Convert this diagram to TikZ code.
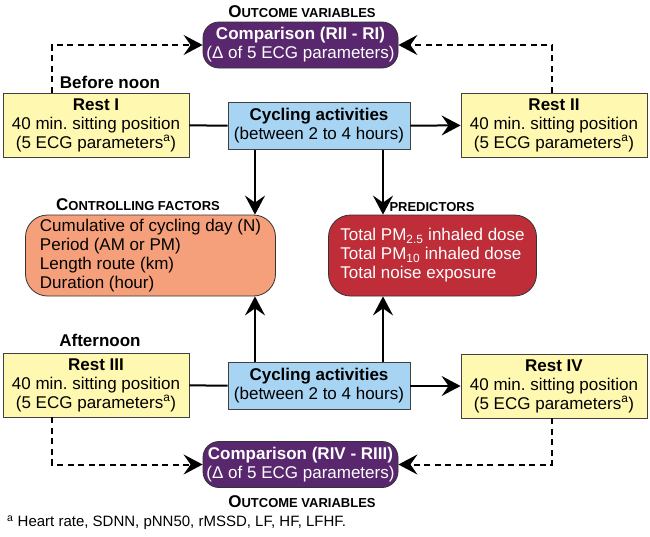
\documentclass[tikz,border=0pt]{standalone}
\usepackage{fontspec}
\setmainfont{Liberation Sans}
\usetikzlibrary{arrows.meta,positioning}
\definecolor{restyellow}{RGB}{255,248,176}
\definecolor{cycleblue}{RGB}{166,212,242}
\definecolor{outpurple}{RGB}{88,39,110}
\definecolor{ctrlorange}{RGB}{245,160,122}
\definecolor{predred}{RGB}{190,45,56}
\newcommand{\capsmall}[2]{{\bfseries #1{\fontsize{13}{13}\selectfont #2}}}
\frenchspacing

\begin{document}
\begin{tikzpicture}[x=1pt,y=-1pt,
  every node/.style={font=\fontsize{17}{19}\selectfont},
  rest/.style={rectangle,draw=black!75,line width=0.8pt,fill=restyellow,
               minimum width=186pt,minimum height=64pt,align=center,inner sep=2pt},
  cyc/.style={rectangle,draw=black!75,line width=0.8pt,fill=cycleblue,
              minimum width=182pt,minimum height=47pt,align=center,inner sep=2pt},
  outc/.style={rectangle,rounded corners=16pt,draw=black!80,line width=0.8pt,fill=outpurple,
               text=white,minimum width=195pt,minimum height=46pt,align=center,inner sep=2pt},
  fact/.style={rectangle,rounded corners=22pt,draw=black!80,line width=0.8pt,
               minimum height=81pt,align=left,inner sep=2pt},
  lab/.style={inner sep=0pt},
  ar/.style={-{Stealth[length=19pt,width=20pt,inset=7pt]},line width=2pt},
  ln/.style={line width=2pt},
  dsh/.style={-{Stealth[length=19pt,width=20pt,inset=7pt]},line width=2pt,dash pattern=on 6pt off 4.5pt}
]
\useasboundingbox (0,0) rectangle (650,536);

% before noon
\node[rest] (rest1) at (96,125)  {\textbf{Rest I}\\40 min. sitting position\\(5 ECG parameters\textsuperscript{a})};
\node[cyc]  (cyc1)  at (319,126) {\textbf{Cycling activities}\\(between 2 to 4 hours)};
\node[rest] (rest2) at (554,125) {\textbf{Rest II}\\40 min. sitting position\\(5 ECG parameters\textsuperscript{a})};
\node[outc] (cmp1)  at (300.5,45) {\textbf{Comparison (RII - RI)}\\(Δ of 5 ECG parameters)};
\node[lab] (out1) at (302,12) {\capsmall{O}{UTCOME VARIABLES}};
\node[lab,font=\fontsize{17}{19}\selectfont\bfseries] (morning) at (110,82) {Before noon};

% factors
\node[fact,fill=ctrlorange,minimum width=250pt] (ctrl) at (150.5,255.5)
  {Cumulative of cycling day (N)\\Period (AM or PM)\\Length route (km)\\Duration (hour)};
\node[fact,fill=predred,text=white,minimum width=208pt] (pred) at (432.5,255.5)
  {Total PM\textsubscript{2.5} inhaled dose\\Total PM\textsubscript{10} inhaled dose\\Total noise exposure};
\node[lab] (ctrllab) at (138,205) {\capsmall{C}{ONTROLLING FACTORS}};
\node[lab] (predlab) at (432,207) {\capsmall{}{PREDICTORS}};

% afternoon
\node[rest] (rest3) at (96,385)  {\textbf{Rest III}\\40 min. sitting position\\(5 ECG parameters\textsuperscript{a})};
\node[cyc]  (cyc2)  at (319,386) {\textbf{Cycling activities}\\(between 2 to 4 hours)};
\node[rest] (rest4) at (554,386) {\textbf{Rest IV}\\40 min. sitting position\\(5 ECG parameters\textsuperscript{a})};
\node[outc] (cmp2)  at (300.5,464.5) {\textbf{Comparison (RIV - RIII)}\\(Δ of 5 ECG parameters)};
\node[lab] (out2) at (302,502) {\capsmall{O}{UTCOME VARIABLES}};
\node[lab,font=\fontsize{17}{19}\selectfont\bfseries] (evening) at (100,340) {Afternoon};

\node[lab,anchor=west,font=\fontsize{15}{17}\selectfont] (note) at (7,523)
  {\textsuperscript{a}\ Heart rate, SDNN, pNN50, rMSSD, LF, HF, LFHF.};

% connectors
\draw[ln] (rest1) -- (cyc1);
\draw[ar] (cyc1) -- (rest2);
\draw[ln] (rest3) -- (cyc2);
\draw[ar] (cyc2) -- (rest4);

\draw[ar] ([xshift=-64pt]cyc1.south) -- ([xshift=-64pt]cyc1.south |- ctrl.north);
\draw[ar] ([xshift=64pt]cyc1.south) -- ([xshift=64pt]cyc1.south |- pred.north);
\draw[ar] ([xshift=-64pt]cyc2.north) -- ([xshift=-64pt]cyc2.north |- ctrl.south);
\draw[ar] ([xshift=64pt]cyc2.north) -- ([xshift=64pt]cyc2.north |- pred.south);

\draw[dsh] ([xshift=-44pt]rest1.north) |- (cmp1.west);
\draw[dsh] ([xshift=-2pt]rest2.north) |- (cmp1.east);
\draw[dsh] ([xshift=-44pt]rest3.south) |- (cmp2.west);
\draw[dsh] ([xshift=-2pt]rest4.south) |- (cmp2.east);
\end{tikzpicture}
\end{document}
